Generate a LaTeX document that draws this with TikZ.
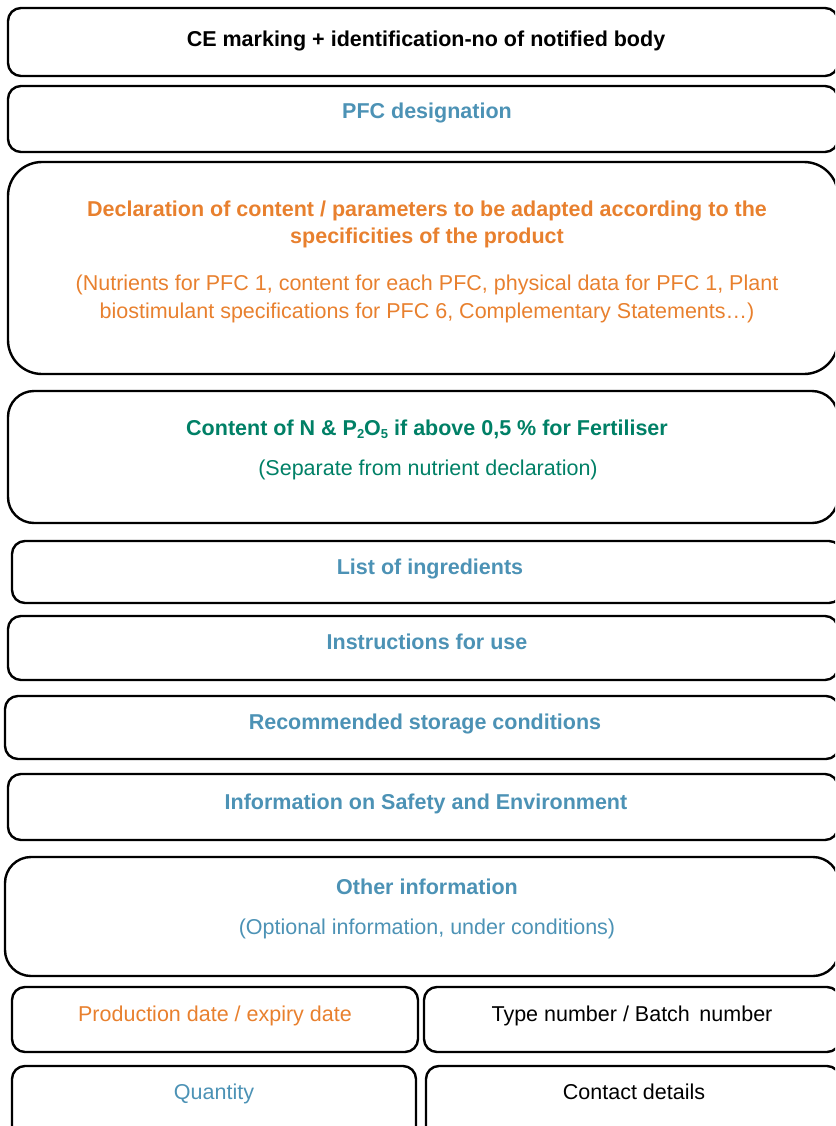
\documentclass[tikz,border=0pt]{standalone}
\usepackage{fontspec}
\setmainfont{Liberation Sans}
\definecolor{lblue}{RGB}{76,146,181}
\definecolor{lorange}{RGB}{232,128,46}
\definecolor{lgreen}{RGB}{0,128,102}
\tikzset{
  box/.style={draw=black, line width=2.4pt, rounded corners=13pt, anchor=north west, inner sep=0pt, outer sep=0pt},
  bigbox/.style={box, rounded corners=34pt},
  midbox/.style={box, rounded corners=26pt},
  txt/.style={anchor=base, inner sep=0pt, font=\fontsize{21.5}{25}\selectfont},
  btxt/.style={txt, font=\fontsize{21.5}{25}\selectfont\bfseries},
}
\newcommand{\sbs}[1]{\raisebox{-0.3ex}{\fontsize{13}{13}\selectfont #1}}
\begin{document}
\begin{tikzpicture}[x=1pt,y=-1pt]
\useasboundingbox (0,0) rectangle (835,1126);
\clip (0,0) rectangle (835,1126);
% boxes
\node[box, minimum width=830pt, minimum height=68pt] (ce) at (8,8) {};
\node[box, minimum width=830pt, minimum height=66pt] (pfc) at (8,86) {};
\node[bigbox, minimum width=830pt, minimum height=212pt] (decl) at (8,162) {};
\node[midbox, minimum width=830pt, minimum height=132pt] (cont) at (8,391) {};
\node[box, minimum width=830pt, minimum height=62pt] (list) at (12,541) {};
\node[box, minimum width=830pt, minimum height=64pt] (instr) at (8,616) {};
\node[box, minimum width=834pt, minimum height=63pt] (stor) at (5,696) {};
\node[box, minimum width=830pt, minimum height=66pt] (safe) at (8,774) {};
\node[midbox, minimum width=834pt, minimum height=119pt] (other) at (5,857) {};
\node[box, minimum width=406pt, minimum height=65pt] (prod) at (12,987) {};
\node[box, minimum width=416pt, minimum height=65pt] (type) at (424,987) {};
\node[box, minimum width=404pt, minimum height=80pt] (qty) at (12,1066) {};
\node[box, minimum width=414pt, minimum height=80pt] (contact) at (426,1066) {};
% texts
\node[btxt, text=black] (ceT) at (426,47) {CE marking + identification-no of notified body};
\node[btxt, text=lblue] (pfcT) at (427,119) {PFC designation};
\node[btxt, text=lorange] (declT1) at (427,216) {Declaration of content / parameters to be adapted according to the};
\node[btxt, text=lorange] (declT2) at (427,243) {specificities of the product};
\node[txt, text=lorange] (declT3) at (427,290) {(Nutrients for PFC 1, content for each PFC, physical data for PFC 1, Plant};
\node[txt, text=lorange] (declT4) at (427,318) {biostimulant specifications for PFC 6, Complementary Statements\ldots)};
\node[btxt, text=lgreen] (contT1) at (427,435) {Content of N \& P\sbs{2}O\sbs{5} if above 0,5 \% for Fertiliser};
\node[txt, text=lgreen] (contT2) at (428,475) {(Separate from nutrient declaration)};
\node[btxt, text=lblue] (listT) at (430,574) {List of ingredients};
\node[btxt, text=lblue] (instrT) at (427,649) {Instructions for use};
\node[btxt, text=lblue] (storT) at (425,729) {Recommended storage conditions};
\node[btxt, text=lblue] (safeT) at (426,809) {Information on Safety and Environment};
\node[btxt, text=lblue] (otherT1) at (427,894) {Other information};
\node[txt, text=lblue] (otherT2) at (427,934) {(Optional information, under conditions)};
\node[txt, text=lorange] (prodT) at (215,1021) {Production date / expiry date};
\node[txt, text=black] (typeT) at (632,1021) {Type number / Batch\ \,number};
\node[txt, text=lblue] (qtyT) at (214,1099) {Quantity};
\node[txt, text=black] (contactT) at (634,1099) {Contact details};
\end{tikzpicture}
\end{document}
